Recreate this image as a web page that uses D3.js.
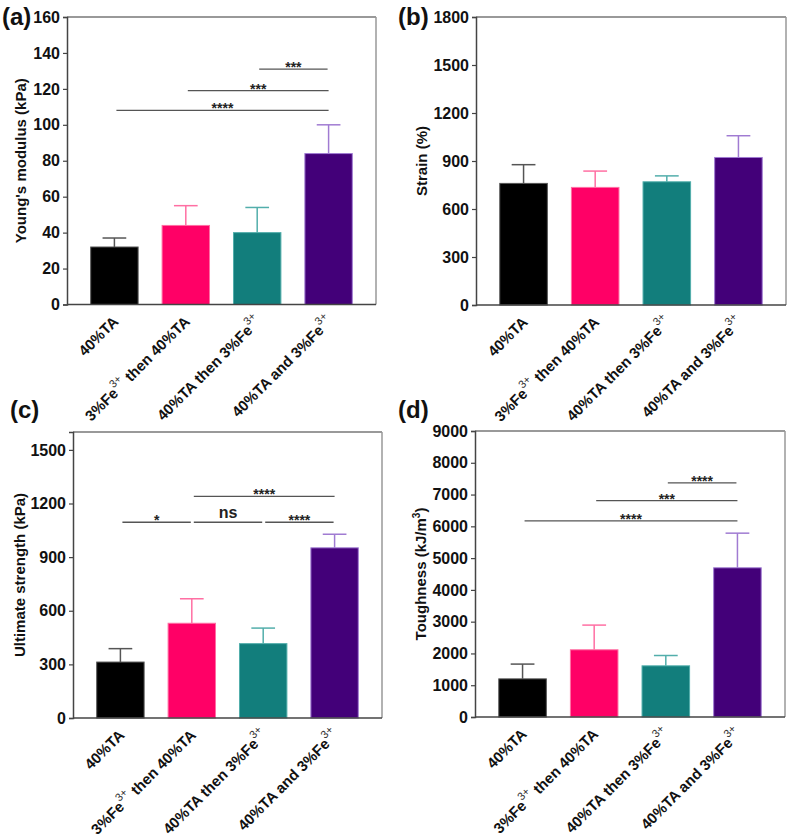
<!DOCTYPE html>
<html>
<head>
<meta charset="utf-8">
<script src="https://cdn.jsdelivr.net/npm/d3@7/dist/d3.min.js"></script>
<style>
  html, body { margin: 0; padding: 0; background: #fff; }
  svg { display: block; font-family: "Liberation Sans", Arial, sans-serif; }
</style>
</head>
<body>
<svg id="chart" width="789" height="839"></svg>
<script>
// ---------- data ----------
const categories = ["40%TA", "3%Fe3+ then 40%TA", "40%TA then 3%Fe3+", "40%TA and 3%Fe3+"];
const barColors = ["#000000", "#ff0066", "#127e7c", "#430079"];
const errColors = ["#555555", "#ff6fa3", "#52aeab", "#a07bd2"];

const modulusMean = [32, 44, 40, 84];
const modulusSD = [5, 11, 14, 16];
const modulusTicks = [0, 20, 40, 60, 80, 100, 120, 140, 160];
const modulusSig = [
  { from: 0, to: 3, y: 108, label: "****" },
  { from: 1, to: 3, y: 119, label: "***" },
  { from: 2, to: 3, y: 131, label: "***" }
];

const strainMean = [760, 735, 770, 922];
const strainSD = [117, 102, 37, 136];
const strainTicks = [0, 300, 600, 900, 1200, 1500, 1800];
const strainSig = [];

const strengthMean = [313, 530, 416, 952];
const strengthSD = [75, 137, 87, 76];
const strengthTicks = [0, 300, 600, 900, 1200, 1500];
const strengthSig = [
  { from: 0, to: 1, y: 1095, label: "*" },
  { from: 1, to: 2, y: 1095, label: "ns" },
  { from: 2, to: 3, y: 1095, label: "****" },
  { from: 1, to: 3, y: 1240, label: "****" }
];

const toughMean = [1200, 2115, 1610, 4695];
const toughSD = [465, 777, 325, 1090];
const toughTicks = [0, 1000, 2000, 3000, 4000, 5000, 6000, 7000, 8000, 9000];
const toughSig = [
  { from: 0, to: 3, y: 6170, label: "****" },
  { from: 1, to: 3, y: 6810, label: "***" },
  { from: 2, to: 3, y: 7370, label: "****" }
];

// ---------- layout ----------
const panels = [
  { tag: "(a)", tagX: 2, tagY: 25, box: [67, 17, 376, 304.5], yMax: 160, mean: modulusMean, sd: modulusSD, ticks: modulusTicks, sig: modulusSig,
    title: ["Young's modulus (kPa)"], titleX: 26 },
  { tag: "(b)", tagX: 398, tagY: 25, box: [476, 17, 786, 305], yMax: 1800, mean: strainMean, sd: strainSD, ticks: strainTicks, sig: strainSig,
    title: ["Strain (%)"], titleX: 427 },
  { tag: "(c)", tagX: 10, tagY: 418, box: [73, 432, 382, 718], yMax: 1600, mean: strengthMean, sd: strengthSD, ticks: strengthTicks, sig: strengthSig,
    title: ["Ultimate strength (kPa)"], titleX: 25 },
  { tag: "(d)", tagX: 398, tagY: 418, box: [475, 431, 785, 717], yMax: 9000, mean: toughMean, sd: toughSD, ticks: toughTicks, sig: toughSig,
    title: ["Toughness (kJ/m", "3", ")"], titleX: 426 }
];

const svg = d3.select("#chart");

function addRichText(sel, label, supSize) {
  const parts = label.split(/(?<=Fe)(3\+)/);
  let raised = false;
  parts.forEach(p => {
    if (p === "") return;
    if (p === "3+") {
      sel.append("tspan").attr("dy", -8).attr("font-size", supSize).attr("font-weight", "normal").attr("fill", "#333").text(p);
      raised = true;
    } else {
      const t = sel.append("tspan").text(p);
      if (raised) { t.attr("dy", 8); raised = false; }
    }
  });
}

panels.forEach(P => {
  const [x0, y0, x1, y1] = P.box;
  const g = svg.append("g");
  const x = d3.scaleBand().domain(d3.range(categories.length)).range([x0, x1]).paddingInner(0.336).paddingOuter(0.332);
  const y = d3.scaleLinear().domain([0, P.yMax]).range([y1, y0]);
  const bw = x.bandwidth();
  const cx = i => x(i) + bw / 2;

  // bars
  g.selectAll("rect.bar").data(P.mean).join("rect")
    .attr("class", "bar")
    .attr("x", (d, i) => x(i)).attr("width", bw)
    .attr("y", d => y(d)).attr("height", d => y(0) - y(d))
    .attr("fill", (d, i) => barColors[i])
    .attr("stroke", (d, i) => errColors[i]).attr("stroke-width", 1);

  // error bars (upper only)
  P.mean.forEach((m, i) => {
    const top = y(m + P.sd[i]);
    g.append("line").attr("x1", cx(i)).attr("x2", cx(i)).attr("y1", y(m)).attr("y2", top)
      .attr("stroke", errColors[i]).attr("stroke-width", 1.5);
    g.append("line").attr("x1", cx(i) - bw * 0.25).attr("x2", cx(i) + bw * 0.25).attr("y1", top).attr("y2", top)
      .attr("stroke", errColors[i]).attr("stroke-width", 1.5);
  });

  // frame
  g.append("line").attr("x1", x0).attr("x2", x1).attr("y1", y0).attr("y2", y0).attr("stroke", "#777").attr("stroke-width", 1.3);
  g.append("line").attr("x1", x1).attr("x2", x1).attr("y1", y0).attr("y2", y1).attr("stroke", "#999").attr("stroke-width", 1.5);
  g.append("line").attr("x1", x0).attr("x2", x1).attr("y1", y1).attr("y2", y1).attr("stroke", "#444").attr("stroke-width", 1.5);

  // y axis
  const ax = g.append("g").attr("transform", `translate(${x0},0)`)
    .call(d3.axisLeft(y).tickValues(P.ticks).tickSize(4).tickPadding(3).tickFormat(d3.format("d")));
  ax.select(".domain").attr("stroke", "#444").attr("stroke-width", 1.5);
  ax.selectAll(".tick line").attr("stroke", "#444").attr("stroke-width", 1.2);
  ax.selectAll(".tick text").attr("font-size", 16).attr("font-weight", "bold").attr("fill", "#111")
    .attr("font-family", "Liberation Sans, Arial, sans-serif");

  // category labels
  categories.forEach((c, i) => {
    const t = g.append("text")
      .attr("transform", `translate(${cx(i) + 5},${y1 + 18}) rotate(-45)`)
      .attr("text-anchor", "end")
      .attr("font-size", 15).attr("font-weight", "bold").attr("fill", "#111");
    addRichText(t, c, 11);
  });

  // y title
  const tt = g.append("text")
    .attr("transform", `translate(${P.titleX},${(y0 + y1) / 2}) rotate(-90)`)
    .attr("text-anchor", "middle")
    .attr("font-size", 15).attr("font-weight", "bold").attr("fill", "#111");
  if (P.title.length === 1) tt.text(P.title[0]);
  else {
    tt.append("tspan").text(P.title[0]);
    tt.append("tspan").attr("dy", -6).attr("font-size", 10).text(P.title[1]);
    tt.append("tspan").attr("dy", 6).text(P.title[2]);
  }

  // panel tag
  svg.append("text").attr("x", P.tagX).attr("y", P.tagY)
    .attr("font-size", 24).attr("font-weight", "bold").attr("fill", "#111").text(P.tag);

  // significance
  P.sig.forEach(s => {
    const sx1 = cx(s.from) + 2, sx2 = cx(s.to) - (s.to - s.from === 1 ? 1 : 0);
    const sy = y(s.y);
    g.append("line").attr("x1", sx1).attr("x2", sx2).attr("y1", sy).attr("y2", sy)
      .attr("stroke", "#555").attr("stroke-width", 1.3);
    const isNs = s.label === "ns";
    g.append("text").attr("x", (sx1 + sx2) / 2).attr("y", isNs ? sy - 4 : sy + 3)
      .attr("text-anchor", "middle")
      .attr("font-size", isNs ? 16 : 14).attr("font-weight", "bold").attr("fill", "#222")
      .text(s.label);
  });
});
</script>
</body>
</html>
